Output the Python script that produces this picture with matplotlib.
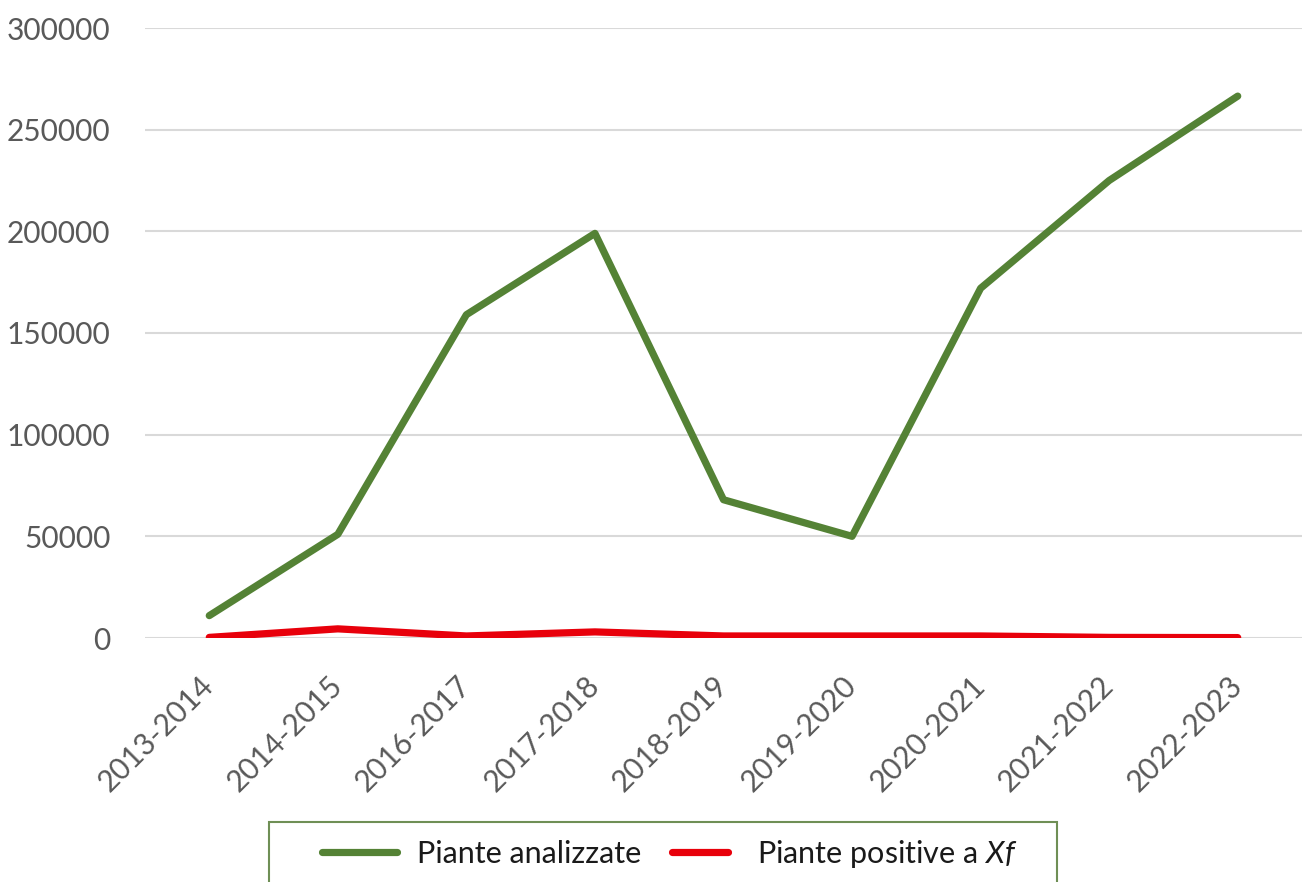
import matplotlib.pyplot as plt
from matplotlib.patches import Rectangle
from matplotlib.legend_handler import HandlerLine2D
from matplotlib.transforms import ScaledTranslation

plt.rcParams['font.family'] = ['Lato', 'DejaVu Sans']
plt.rcParams['mathtext.fontset'] = 'custom'
plt.rcParams['mathtext.it'] = 'Lato:italic'

# Dati
stagioni = ['2013-2014', '2014-2015', '2016-2017', '2017-2018', '2018-2019',
            '2019-2020', '2020-2021', '2021-2022', '2022-2023']
piante_analizzate = [11000, 51000, 159000, 199000, 68000, 50000, 172000, 225000, 266500]
piante_positive = [300, 4500, 1000, 3000, 1000, 1000, 1000, 300, 200]

verde = '#548235'
rosso = '#e8000b'
grigio = '#595959'

W, H = 1304, 882
fig = plt.figure(figsize=(W / 100, H / 100), dpi=100)
ax = fig.add_axes([145 / W, 1 - 638 / H, 1157 / W, 610 / H])

x = range(len(stagioni))
l1, = ax.plot(x, piante_analizzate, color=verde, linewidth=5.2,
              solid_capstyle='round', solid_joinstyle='round', label='Piante analizzate')
l2, = ax.plot(x, piante_positive, color=rosso, linewidth=5.2,
              solid_capstyle='round', solid_joinstyle='round', label='Piante positive a $\\mathit{Xf}$')

ax.set_xlim(-0.5, len(stagioni) - 0.5)
ax.set_ylim(0, 300000)
ax.set_yticks(range(0, 300001, 50000))
ax.yaxis.grid(True, color='#d9d9d9', linewidth=1.5)
ax.set_axisbelow(True)
for s in ax.spines.values():
    s.set_visible(False)
ax.tick_params(axis='both', length=0, labelsize=21.5, labelcolor=grigio)
ax.tick_params(axis='y', pad=25)
ax.set_xticks(list(x))
ax.set_xticklabels(stagioni, rotation=45, ha='right', va='top', rotation_mode='anchor')
ax.tick_params(axis='x', pad=24)
sposta = ScaledTranslation(-10 / 100, 0, fig.dpi_scale_trans)
for lbl in ax.get_xticklabels():
    lbl.set_transform(lbl.get_transform() + sposta)

# riquadro della legenda (tagliato in basso come nell'immagine)
fig.patches.append(Rectangle((269 / W, -0.05), (1057 - 269) / W, 0.05 + 1 - 822 / H,
                             transform=fig.transFigure, fill=False,
                             edgecolor='#6f8f55', linewidth=1.5))

leg = fig.legend(handles=[l1, l2], loc='center left',
                 bbox_to_anchor=(322 / W, 1 - 854 / H),
                 ncol=2, fontsize=22, frameon=False,
                 handlelength=2.45, handletextpad=0.65, columnspacing=0.7,
                 borderpad=0, borderaxespad=0,
                 handler_map={l2: HandlerLine2D(numpoints=2, marker_pad=0.3)})
for t in leg.get_texts():
    t.set_color('#1a1a1a')

fig.savefig('out.png', dpi=100)
